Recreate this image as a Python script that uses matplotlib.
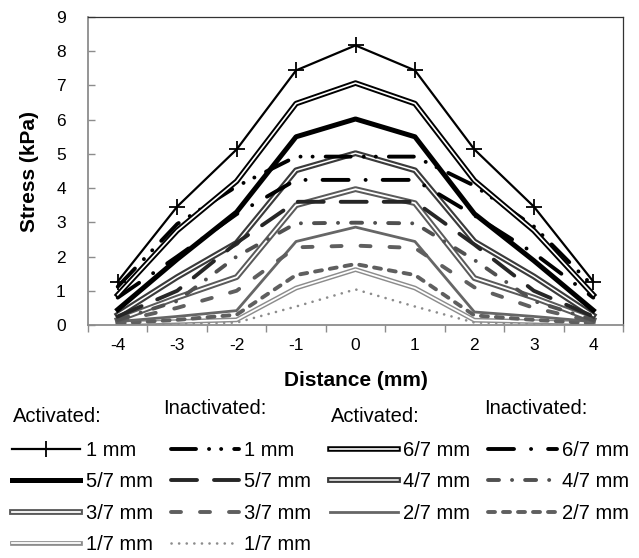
import matplotlib
matplotlib.use('Agg')
import matplotlib.pyplot as plt
from matplotlib.legend_handler import HandlerTuple

plt.rcParams['font.family'] = ['Liberation Sans', 'DejaVu Sans']
plt.rcParams['axes.unicode_minus'] = False

# distance (mm) and stress (kPa) for each series
distance = [-4, -3, -2, -1, 0, 1, 2, 3, 4]

act_1 = [1.27, 3.46, 5.13, 7.44, 8.17, 7.44, 5.13, 3.46, 1.27]
act_67 = [0.88, 2.76, 4.20, 6.47, 7.07, 6.47, 4.22, 2.76, 0.88]
act_57 = [0.45, 1.92, 3.30, 5.50, 6.02, 5.50, 3.25, 1.88, 0.43]
act_47 = [0.30, 1.40, 2.40, 4.52, 5.02, 4.52, 2.44, 1.42, 0.28]
act_37 = [0.15, 0.80, 1.40, 3.50, 3.97, 3.56, 1.37, 0.80, 0.15]
act_27 = [0.10, 0.25, 0.42, 2.44, 2.86, 2.44, 0.38, 0.25, 0.10]
act_17 = [0.05, 0.10, 0.15, 1.08, 1.62, 1.08, 0.14, 0.10, 0.05]

inact_1 = [1.12, 2.95, 4.05, 4.92, 4.92, 4.92, 4.07, 2.88, 1.13]
inact_67 = [0.80, 2.00, 3.24, 4.24, 4.24, 4.24, 3.20, 2.10, 0.80]
inact_57 = [0.25, 1.00, 2.40, 3.60, 3.60, 3.60, 2.35, 1.00, 0.25]
inact_47 = [0.15, 0.70, 2.00, 2.97, 2.99, 2.97, 1.90, 0.70, 0.15]
inact_37 = [0.10, 0.50, 1.00, 2.27, 2.32, 2.25, 1.10, 0.50, 0.10]
inact_27 = [0.05, 0.15, 0.30, 1.46, 1.78, 1.46, 0.28, 0.15, 0.05]
inact_17 = [0.02, 0.04, 0.07, 0.54, 1.04, 0.54, 0.07, 0.04, 0.02]

y_ticks = list(range(0, 10))


def dash(px, lw):
    # dash pattern given in pixels, converted to linewidth units
    return (0, [p / (lw * 100 / 72) for p in px])


fig = plt.figure(figsize=(6.39, 5.58), dpi=100)
ax = fig.add_axes([88 / 639, 1 - 325 / 558, 535 / 639, 308 / 558])

handles = {}


def solid(key, y, color, lw, **kw):
    ln, = ax.plot(distance, y, color=color, lw=lw, solid_joinstyle='round', **kw)
    handles[key] = ln


def double(key, y, color, outer, inner):
    a, = ax.plot(distance, y, color=color, lw=outer, solid_joinstyle='round')
    b, = ax.plot(distance, y, color='white', lw=inner, solid_joinstyle='round')
    handles[key] = (a, b)


def dashed(key, y, color, lw, px):
    ln, = ax.plot(distance, y, color=color, lw=lw, linestyle=dash(px, lw),
                  dash_capstyle='round', solid_joinstyle='round')
    handles[key] = ln


dashed('i17', inact_17, '#8c8c8c', 1.9, [0.1, 7.5])
double('a17', act_17, '#8c8c8c', 3.4, 1.3)
dashed('i27', inact_27, '#5f5f5f', 2.8, [7, 8])
solid('a27', act_27, '#666666', 2.0)
dashed('i37', inact_37, '#5f5f5f', 2.8, [10, 19])
double('a37', act_37, '#5a5a5a', 4.2, 1.3)
dashed('i47', inact_47, '#505050', 2.8, [11, 13, 0.1, 13])
double('a47', act_47, '#3a3a3a', 4.2, 1.1)
dashed('i57', inact_57, '#262626', 2.8, [26, 17])
solid('a57', act_57, 'black', 3.6)
dashed('i67', inact_67, 'black', 2.8, [26, 17, 0.1, 17])
dashed('i1', inact_1, 'black', 2.8, [25, 13, 0.1, 12, 0.1, 13])
double('a67', act_67, 'black', 4.0, 1.2)
solid('a1', act_1, 'black', 1.6, marker='+', markersize=11, markeredgewidth=1.3)

ax.set_xlim(-4.5, 4.5)
ax.set_ylim(0, 9)
ax.set_yticks(y_ticks)
ax.set_xticks(distance)
ax.set_xticks([d - 0.5 for d in distance] + [4.5], minor=True)
ax.tick_params(axis='x', which='major', length=0, pad=9, labelsize=12.5)
ax.tick_params(axis='x', which='minor', length=5, width=1, color='#8c8c8c', direction='out')
ax.tick_params(axis='y', which='major', length=5, width=1, color='#8c8c8c', direction='in',
               pad=16, labelsize=12.5)

for s in ['left', 'bottom']:
    ax.spines[s].set_color('#8c8c8c')
    ax.spines[s].set_linewidth(1.3)
for s in ['top', 'right']:
    ax.spines[s].set_color('#333333')
    ax.spines[s].set_linewidth(0.9)

ax.set_ylabel('Stress (kPa)', fontsize=15, fontweight='bold')
ax.yaxis.set_label_coords(-49 / 535, 0.5)
ax.set_xlabel('Distance (mm)', fontsize=15, fontweight='bold')
ax.xaxis.label.set_va('center')
ax.xaxis.set_label_coords(0.5, -56 / 308)

order = ['a1', 'a57', 'a37', 'a17', 'i1', 'i57', 'i37', 'i17',
         'a67', 'a47', 'a27', 'i67', 'i47', 'i27']
names = {'a1': '1 mm', 'i1': '1 mm', 'a67': '6/7 mm', 'i67': '6/7 mm',
         'a57': '5/7 mm', 'i57': '5/7 mm', 'a47': '4/7 mm', 'i47': '4/7 mm',
         'a37': '3/7 mm', 'i37': '3/7 mm', 'a27': '2/7 mm', 'i27': '2/7 mm',
         'a17': '1/7 mm', 'i17': '1/7 mm'}
fig.legend([handles[k] for k in order], [names[k] for k in order], ncol=4,
           loc='upper left', bbox_to_anchor=(12 / 639, 1 - 441 / 558),
           frameon=False, fontsize=14.5, handlelength=3.4, handletextpad=0.25,
           columnspacing=0.9, labelspacing=0.62, borderpad=0, borderaxespad=0,
           handler_map={tuple: HandlerTuple(ndivide=1, pad=0)})

headers = [(13, 416, 'Activated:'), (163, 409, 'Inactivated:'),
           (331, 416, 'Activated:'), (484, 409, 'Inactivated:')]
for hx, hy, txt in headers:
    fig.text(hx / 639, 1 - hy / 558, txt, fontsize=14.5, va='center', ha='left')

fig.savefig('out.png', dpi=100)
